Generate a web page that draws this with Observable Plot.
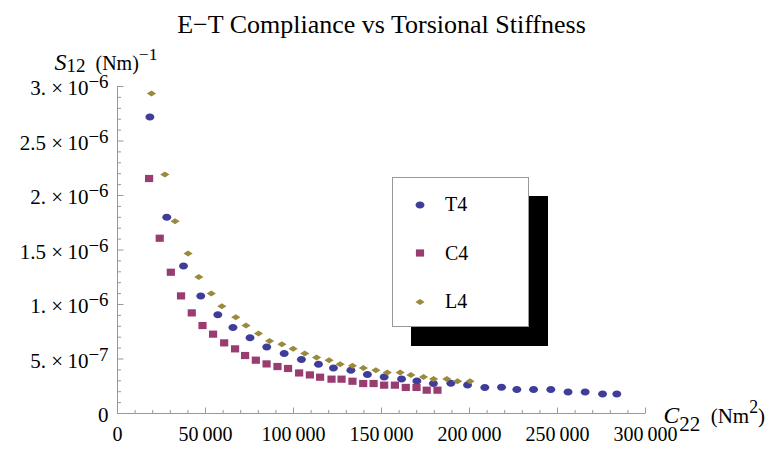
<!DOCTYPE html>
<html>
<head>
<meta charset="utf-8">
<script src="https://cdn.jsdelivr.net/npm/d3@7"></script>
<script src="https://cdn.jsdelivr.net/npm/@observablehq/plot@0.6"></script>
<style>
  html, body { margin: 0; padding: 0; background: white; }
  #chart { position: relative; width: 772px; height: 458px; font-family: "Liberation Serif", serif; }
  #chart > svg { position: absolute; left: 0; top: 0; }
  .lg-shadow { position: absolute; background: black; }
  .lg-box { position: absolute; background: white; border: 1px solid #999; box-sizing: border-box; }
  .lg-row { position: absolute; height: 24px; display: flex; align-items: center; font-size: 20px; }
  .lg-row svg { display: block; }
</style>
</head>
<body>
<div id="chart"></div>
<script>
// ---- data ----
const seriesNames = ["T4", "C4", "L4"];
const seriesColors = ["#3f3d99", "#993d71", "#998a3d"];

const t4X = [18400, 28000, 37500, 47300, 57000, 65600, 75300, 84800, 94700, 104500, 114200, 122700, 132600, 142000, 151500, 161400, 170100, 179500, 189400, 198900, 208700, 218200, 226900, 236400, 246200, 256000, 265700, 275600, 283700];
const t4Y = [2.72e-6, 1.80e-6, 1.354e-6, 1.079e-6, 0.905e-6, 0.789e-6, 0.694e-6, 0.611e-6, 0.550e-6, 0.495e-6, 0.452e-6, 0.418e-6, 0.397e-6, 0.358e-6, 0.336e-6, 0.317e-6, 0.299e-6, 0.275e-6, 0.278e-6, 0.262e-6, 0.239e-6, 0.241e-6, 0.220e-6, 0.220e-6, 0.220e-6, 0.198e-6, 0.198e-6, 0.180e-6, 0.180e-6];

const c4X = [17950, 24000, 30300, 36100, 42200, 48300, 54300, 60600, 66800, 72500, 78600, 84700, 90900, 96900, 103200, 109300, 115100, 121600, 127300, 133500, 139600, 145500, 151500, 157600, 163800, 169900, 175700, 181800];
const c4Y = [2.156e-6, 1.608e-6, 1.296e-6, 1.079e-6, 0.923e-6, 0.807e-6, 0.728e-6, 0.648e-6, 0.593e-6, 0.532e-6, 0.489e-6, 0.455e-6, 0.431e-6, 0.413e-6, 0.372e-6, 0.354e-6, 0.333e-6, 0.315e-6, 0.315e-6, 0.296e-6, 0.275e-6, 0.275e-6, 0.260e-6, 0.260e-6, 0.239e-6, 0.239e-6, 0.214e-6, 0.214e-6];

const l4X = [19300, 26900, 32700, 40100, 46200, 53300, 59300, 67200, 73000, 80100, 86400, 93400, 99800, 106400, 113100, 120200, 126500, 133500, 139700, 146800, 153300, 160600, 166700, 173900, 179600, 187100, 193200, 200300];
const l4Y = [2.936e-6, 2.193e-6, 1.764e-6, 1.468e-6, 1.253e-6, 1.101e-6, 0.983e-6, 0.883e-6, 0.808e-6, 0.734e-6, 0.666e-6, 0.636e-6, 0.593e-6, 0.550e-6, 0.514e-6, 0.489e-6, 0.452e-6, 0.437e-6, 0.417e-6, 0.397e-6, 0.376e-6, 0.376e-6, 0.354e-6, 0.336e-6, 0.317e-6, 0.317e-6, 0.296e-6, 0.296e-6];

const xTicks = [0, 50000, 100000, 150000, 200000, 250000, 300000];
const xTickLabels = ["0", "50\u2009000", "100\u2009000", "150\u2009000", "200\u2009000", "250\u2009000", "300\u2009000"];
const yTicks = [0, 5e-7, 1e-6, 1.5e-6, 2e-6, 2.5e-6, 3e-6];
// rich-text spec: {sizeFactor,baselineShiftPx[,i]}
const yTickLabels = ["0", "5. ×\u200910{0.9,-7}−7", "1. ×\u200910{0.9,-7}−6", "1.5 ×\u200910{0.9,-7}−6", "2. ×\u200910{0.9,-7}−6", "2.5 ×\u200910{0.9,-7}−6", "3. ×\u200910{0.9,-7}−6"];
const xMinor = d3.range(0, 300001, 10000).filter(v => v % 50000 !== 0);
const yMinor = d3.range(0, 31).map(k => k * 1e-7).filter((v, k) => k % 5 !== 0);

const titleText = "E−T Compliance vs Torsional Stiffness";
const yLabelText = "{1.2,0,i}S{0.95,2}12{1,0}\u2002(Nm){0.88,-10}−1";
const xLabelText = "{1.12,0,i}C{1,8}22{1,0}\u2002(Nm{0.85,-10}2{1,0})";

// ---- symbols ----
const ellipseSym = {draw(ctx) {
  const rx = 4.5, ry = 3.5, k = 0.5523;
  ctx.moveTo(rx, 0);
  ctx.bezierCurveTo(rx, k * ry, k * rx, ry, 0, ry);
  ctx.bezierCurveTo(-k * rx, ry, -rx, k * ry, -rx, 0);
  ctx.bezierCurveTo(-rx, -k * ry, -k * rx, -ry, 0, -ry);
  ctx.bezierCurveTo(k * rx, -ry, rx, -k * ry, rx, 0);
  ctx.closePath();
}};
const squareSym = {draw(ctx) {
  const w = 4.1, h = 3.6;
  ctx.moveTo(-w, -h); ctx.lineTo(w, -h); ctx.lineTo(w, h); ctx.lineTo(-w, h); ctx.closePath();
}};
const diamondSym = {draw(ctx) {
  const w = 4.6, h = 3.0;
  ctx.moveTo(w, 0); ctx.lineTo(0, h); ctx.lineTo(-w, 0); ctx.lineTo(0, -h); ctx.closePath();
}};
const seriesSymbols = [ellipseSym, squareSym, diamondSym];
const tickRight = len => ({draw(ctx) { ctx.moveTo(0, 0); ctx.lineTo(len, 0); }});
const tickUp = len => ({draw(ctx) { ctx.moveTo(0, 0); ctx.lineTo(0, -len); }});

const seriesData = [
  t4X.map((x, i) => ({x, y: t4Y[i]})),
  c4X.map((x, i) => ({x, y: c4Y[i]})),
  l4X.map((x, i) => ({x, y: l4Y[i]}))
];

const xLabelMap = new Map(xTicks.map((v, i) => [v, xTickLabels[i]]));
const yLabelMap = new Map(yTicks.map((v, i) => [v, yTickLabels[i]]));
const AX = "#999";

const plot = Plot.plot({
  width: 772, height: 458,
  marginLeft: 117, marginRight: 127, marginTop: 86, marginBottom: 45,
  x: {domain: [0, 300000], axis: null},
  y: {domain: [0, 3e-6], axis: null},
  style: {fontFamily: "Liberation Serif", fontSize: "20px", color: "black", background: "white", overflow: "visible"},
  marks: [
    Plot.ruleX([0], {y1: 0, y2: 3e-6, stroke: AX, strokeWidth: 1}),
    Plot.ruleY([0], {x1: 0, x2: 300000, stroke: AX, strokeWidth: 1}),
    Plot.dot(yTicks, {x: d => 0, y: d => d, symbol: tickRight(6), stroke: AX, fill: "none", strokeWidth: 1}),
    Plot.dot(yMinor, {x: d => 0, y: d => d, symbol: tickRight(3.5), stroke: AX, fill: "none", strokeWidth: 1}),
    Plot.dot(xTicks, {x: d => d, y: d => 0, symbol: tickUp(6), stroke: AX, fill: "none", strokeWidth: 1}),
    Plot.dot(xMinor, {x: d => d, y: d => 0, symbol: tickUp(3.5), stroke: AX, fill: "none", strokeWidth: 1}),
    Plot.axisY(yTicks, {tickFormat: d => yLabelMap.get(d), tickSize: 0, tickPadding: 9, fontSize: 21, dy: 2, label: null}),
    Plot.axisX(xTicks, {tickFormat: d => xLabelMap.get(d), tickSize: 0, tickPadding: 13, fontSize: 20, label: null}),
    ...seriesData.map((data, s) => Plot.dot(data, {x: "x", y: "y", symbol: seriesSymbols[s], fill: seriesColors[s], stroke: "none"})),
    Plot.text([titleText], {text: d => d, frameAnchor: "top", lineAnchor: "bottom", dy: -54, fontSize: 26}),
    Plot.text([yLabelText], {text: d => d, frameAnchor: "top-left", textAnchor: "start", lineAnchor: "bottom", dx: -63, dy: -17, fontSize: 20}),
    Plot.text([xLabelText], {text: d => d, frameAnchor: "bottom-right", textAnchor: "start", lineAnchor: "bottom", dx: 18, dy: 9, fontSize: 21})
  ]
});

const chart = document.getElementById("chart");
chart.appendChild(plot);

// rich text: segments introduced by {sizeFactor,shiftPx[,i]}
const SVGNS = "http://www.w3.org/2000/svg";
function richify(el) {
  const src = el.textContent;
  if (src.indexOf("{") < 0) return;
  const fs = parseFloat(getComputedStyle(el).fontSize) || 20;
  el.textContent = "";
  const parts = src.split(/(\{[^}]*\})/).filter(s => s !== "");
  let size = 1, shift = 0, italic = false, cur = 0;
  for (const p of parts) {
    if (p[0] === "{") {
      const a = p.slice(1, -1).split(",");
      size = +a[0]; shift = +a[1]; italic = a[2] === "i";
    } else {
      const t = document.createElementNS(SVGNS, "tspan");
      t.textContent = p;
      if (shift !== cur) { t.setAttribute("dy", (shift - cur).toFixed(2)); cur = shift; }
      if (size !== 1) t.setAttribute("font-size", (size * fs).toFixed(1));
      if (italic) t.setAttribute("font-style", "italic");
      el.appendChild(t);
    }
  }
}
plot.querySelectorAll("text").forEach(richify);

// legend (overlay box with drop shadow)
const L = {left: 392, top: 177, w: 137, h: 150, off: 19};
const sh = document.createElement("div");
sh.className = "lg-shadow";
Object.assign(sh.style, {left: (L.left + L.off) + "px", top: (L.top + L.off) + "px", width: L.w + "px", height: L.h + "px"});
chart.appendChild(sh);
const box = document.createElement("div");
box.className = "lg-box";
Object.assign(box.style, {left: L.left + "px", top: L.top + "px", width: L.w + "px", height: L.h + "px"});
chart.appendChild(box);
seriesNames.forEach((name, i) => {
  const row = document.createElement("div");
  row.className = "lg-row";
  const cy = L.top + 27.5 + i * 48.7;
  Object.assign(row.style, {left: (L.left + 19) + "px", top: (cy - 12) + "px"});
  const svg = d3.create("svg").attr("width", 18).attr("height", 24).style("margin-right", "16px");
  svg.append("path").attr("transform", "translate(9,12)").attr("d", d3.symbol(seriesSymbols[i])()).attr("fill", seriesColors[i]);
  row.appendChild(svg.node());
  const lab = document.createElement("span");
  lab.textContent = name;
  row.appendChild(lab);
  chart.appendChild(row);
});
</script>
</body>
</html>
